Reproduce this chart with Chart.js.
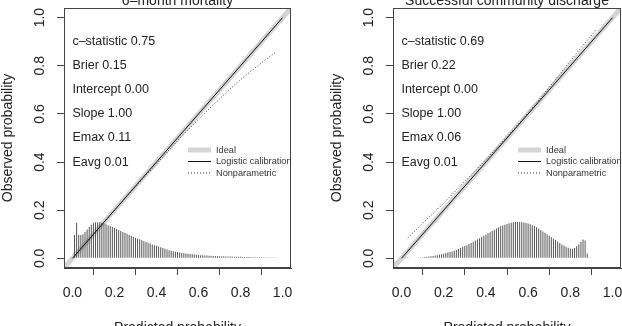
<!DOCTYPE html>
<html>
<head>
<meta charset="utf-8">
<script src="https://cdn.jsdelivr.net/npm/chart.js@4.4.0/dist/chart.umd.min.js"></script>
<style>
  html, body { margin: 0; padding: 0; background: #fff; overflow: hidden; }
  #wrap { width: 622px; height: 326px; position: relative; }
  canvas { position: absolute; top: 0; }
</style>
</head>
<body>
<div id="wrap">
  <canvas id="chartMort" width="311" height="326" style="left:0"></canvas>
  <canvas id="chartDisch" width="311" height="326" style="left:311px"></canvas>
</div>
<script>
// shared axis setup
const tickValues = [0.0, 0.2, 0.4, 0.6, 0.8, 1.0];
const axisLimits = [-0.04, 1.04];
const legendLabels = ["Ideal", "Logistic calibration", "Nonparametric"];
const xTitle = "Predicted probability";
const yTitle = "Observed probability";

// left panel: 6-month mortality
const mortTitle = "6\u2013month mortality";
const mortStats = ["c\u2013statistic 0.75", "Brier 0.15", "Intercept 0.00", "Slope 1.00", "Emax 0.11", "Eavg 0.01"];
const mortLogisticX = [0, 1];
const mortLogisticY = [0, 1];
const mortNpX = [0.01, 0.05, 0.1, 0.2, 0.3, 0.4, 0.5, 0.6, 0.7, 0.8, 0.9, 0.97];
const mortNpY = [0.01, 0.05, 0.1, 0.2, 0.298, 0.392, 0.488, 0.578, 0.662, 0.742, 0.812, 0.858];
const mortBins = [
  0.01, 0.02, 0.03, 0.04, 0.05, 0.06, 0.07, 0.08, 0.09, 0.10,
  0.11, 0.12, 0.13, 0.14, 0.15, 0.16, 0.17, 0.18, 0.19, 0.20,
  0.21, 0.22, 0.23, 0.24, 0.25, 0.26, 0.27, 0.28, 0.29, 0.30,
  0.31, 0.32, 0.33, 0.34, 0.35, 0.36, 0.37, 0.38, 0.39, 0.40,
  0.41, 0.42, 0.43, 0.44, 0.45, 0.46, 0.47, 0.48, 0.49, 0.50,
  0.51, 0.52, 0.53, 0.54, 0.55, 0.56, 0.57, 0.58, 0.59, 0.60,
  0.61, 0.62, 0.63, 0.64, 0.65, 0.66, 0.67, 0.68, 0.69, 0.70,
  0.71, 0.72, 0.73, 0.74, 0.75, 0.76, 0.77, 0.78, 0.79, 0.80,
  0.81, 0.82, 0.83, 0.84, 0.85, 0.86, 0.87, 0.88, 0.89, 0.90,
  0.91, 0.92, 0.93, 0.94, 0.95, 0.96, 0.97
];
const mortHeights = [
  0.097, 0.148, 0.098, 0.097, 0.100, 0.110, 0.120, 0.130, 0.140, 0.148,
  0.150, 0.150, 0.150, 0.148, 0.145, 0.142, 0.138, 0.134, 0.130, 0.126,
  0.122, 0.118, 0.114, 0.110, 0.106, 0.102, 0.098, 0.094, 0.090, 0.086,
  0.082, 0.079, 0.075, 0.072, 0.068, 0.065, 0.062, 0.058, 0.055, 0.052,
  0.049, 0.046, 0.043, 0.040, 0.037, 0.034, 0.032, 0.030, 0.028, 0.026,
  0.024, 0.022, 0.021, 0.020, 0.019, 0.018, 0.017, 0.016, 0.015, 0.014,
  0.013, 0.013, 0.012, 0.012, 0.011, 0.011, 0.010, 0.010, 0.010, 0.009,
  0.009, 0.009, 0.008, 0.008, 0.008, 0.008, 0.007, 0.007, 0.007, 0.007,
  0.006, 0.006, 0.006, 0.006, 0.006, 0.005, 0.005, 0.005, 0.005, 0.005,
  0.005, 0.004, 0.004, 0.004, 0.004, 0.004, 0.004
];

// right panel: successful community discharge
const dischTitle = "Successful community discharge";
const dischStats = ["c\u2013statistic 0.69", "Brier 0.22", "Intercept 0.00", "Slope 1.00", "Emax 0.06", "Eavg 0.01"];
const dischLogisticX = [0, 1];
const dischLogisticY = [0, 1];
const dischNpX = [0.03, 0.1, 0.2, 0.3, 0.4, 0.5, 0.6, 0.7, 0.8, 0.92];
const dischNpY = [0.085, 0.145, 0.23, 0.32, 0.41, 0.505, 0.605, 0.71, 0.82, 0.948];
const dischBins = [
  0.01, 0.02, 0.03, 0.04, 0.05, 0.06, 0.07, 0.08, 0.09, 0.10,
  0.11, 0.12, 0.13, 0.14, 0.15, 0.16, 0.17, 0.18, 0.19, 0.20,
  0.21, 0.22, 0.23, 0.24, 0.25, 0.26, 0.27, 0.28, 0.29, 0.30,
  0.31, 0.32, 0.33, 0.34, 0.35, 0.36, 0.37, 0.38, 0.39, 0.40,
  0.41, 0.42, 0.43, 0.44, 0.45, 0.46, 0.47, 0.48, 0.49, 0.50,
  0.51, 0.52, 0.53, 0.54, 0.55, 0.56, 0.57, 0.58, 0.59, 0.60,
  0.61, 0.62, 0.63, 0.64, 0.65, 0.66, 0.67, 0.68, 0.69, 0.70,
  0.71, 0.72, 0.73, 0.74, 0.75, 0.76, 0.77, 0.78, 0.79, 0.80,
  0.81, 0.82, 0.83, 0.84, 0.85, 0.86, 0.87, 0.88, 0.89, 0.90
];
const dischHeights = [
  0.002, 0.002, 0.002, 0.002, 0.003, 0.003, 0.003, 0.004, 0.004, 0.005,
  0.006, 0.007, 0.008, 0.009, 0.010, 0.012, 0.013, 0.015, 0.017, 0.019,
  0.021, 0.024, 0.026, 0.029, 0.032, 0.036, 0.039, 0.043, 0.047, 0.051,
  0.055, 0.060, 0.064, 0.069, 0.074, 0.079, 0.084, 0.089, 0.094, 0.099,
  0.104, 0.109, 0.114, 0.119, 0.124, 0.128, 0.133, 0.137, 0.140, 0.143,
  0.146, 0.148, 0.150, 0.151, 0.151, 0.151, 0.150, 0.149, 0.147, 0.145,
  0.142, 0.138, 0.134, 0.129, 0.124, 0.118, 0.112, 0.106, 0.100, 0.094,
  0.088, 0.082, 0.076, 0.070, 0.064, 0.058, 0.053, 0.048, 0.044, 0.041,
  0.040, 0.043, 0.050, 0.058, 0.068, 0.078, 0.074, 0.020, 0.004, 0.003
];

const FONT = "'Liberation Sans', Arial, Helvetica, sans-serif";
Chart.defaults.font.family = FONT;

function pairs(xs, ys) {
  return xs.map((v, i) => ({ x: v, y: ys[i] }));
}

// text, frame, legend and rotated y labels the way base R draws them
const rDecor = {
  id: "rDecor",
  afterDatasetsDraw(chart, args, opts) {
    const { ctx, chartArea: a, scales } = chart;
    const xs = scales.x, ys = scales.y;
    ctx.save();

    // box
    ctx.strokeStyle = "#444";
    ctx.lineWidth = 1;
    ctx.strokeRect(a.left + 0.5, a.top + 0.5, a.right - a.left - 1, a.bottom - a.top - 1);

    ctx.fillStyle = "#222";

    // stats text
    ctx.font = "12.5px " + FONT;
    ctx.textAlign = "left";
    ctx.textBaseline = "middle";
    opts.stats.forEach((s, i) => {
      ctx.fillText(s, xs.getPixelForValue(0), ys.getPixelForValue(0.9 - i * 0.1));
    });

    // legend
    const ds = chart.data.datasets;
    ctx.font = "9.2px " + FONT;
    legendLabels.forEach((lab, i) => {
      const d = ds.find(e => e.label === lab);
      const ly = a.top + 142 + i * 11.5;
      ctx.save();
      ctx.strokeStyle = d.borderColor;
      ctx.lineWidth = d.borderWidth;
      ctx.setLineDash(d.borderDash || []);
      ctx.beginPath();
      ctx.moveTo(a.right - 103, ly);
      ctx.lineTo(a.right - 80, ly);
      ctx.stroke();
      ctx.restore();
      ctx.fillStyle = "#333";
      ctx.fillText(lab, a.right - 75, ly);
    });

    // y tick labels, rotated like R's las = 0
    ctx.fillStyle = "#222";
    ctx.font = "14px " + FONT;
    ctx.textAlign = "center";
    ys.ticks.forEach(t => {
      ctx.save();
      ctx.translate(a.left - 24, ys.getPixelForValue(t.value));
      ctx.rotate(-Math.PI / 2);
      ctx.fillText(t.value.toFixed(1), 0, 0);
      ctx.restore();
    });

    // titles
    const cx = (a.left + a.right) / 2;
    ctx.textBaseline = "alphabetic";
    ctx.fillText(opts.title, cx, 5);
    ctx.fillText(xTitle, cx, 332);
    ctx.save();
    ctx.translate(a.left - 56, (a.top + a.bottom) / 2);
    ctx.rotate(-Math.PI / 2);
    ctx.textBaseline = "middle";
    ctx.fillText(yTitle, 0, 0);
    ctx.restore();

    ctx.restore();
  }
};

function makeChart(id, p) {
  const ctx = document.getElementById(id);
  return new Chart(ctx, {
    type: "line",
    data: {
      datasets: [
        {
          label: legendLabels[1],
          data: pairs(p.logX, p.logY),
          borderColor: "#111",
          borderWidth: 1,
          pointRadius: 0,
          order: 0,
        },
        {
          label: legendLabels[2],
          data: pairs(p.npX, p.npY),
          borderColor: "#333",
          borderWidth: 1,
          borderDash: [1, 2],
          pointRadius: 0,
          cubicInterpolationMode: "monotone",
          order: 1,
        },
        {
          type: "bar",
          label: "hist",
          data: pairs(p.bins, p.heights),
          backgroundColor: "#555",
          borderWidth: 0,
          barThickness: 1,
          inflateAmount: 0,
          grouped: false,
          order: 2,
        },
        {
          label: legendLabels[0],
          data: pairs(axisLimits, axisLimits),
          borderColor: "#d4d4d4",
          borderWidth: 5,
          pointRadius: 0,
          clip: 0,
          order: 3,
        },
      ],
    },
    options: {
      responsive: false,
      animation: false,
      events: [],
      layout: { padding: { top: 8, right: p.padRight, left: 0, bottom: 0 } },
      plugins: {
        legend: { display: false },
        tooltip: { enabled: false },
        title: { display: false },
        rDecor: { title: p.title, stats: p.stats },
      },
      scales: {
        x: {
          type: "linear",
          min: axisLimits[0],
          max: axisLimits[1],
          offset: false,
          afterBuildTicks: s => { s.ticks = tickValues.map(v => ({ value: v })); },
          afterFit: s => { s.height = 58; s.paddingLeft = 0; s.paddingRight = 0; },
          grid: { drawOnChartArea: false, tickLength: 7, color: "#444", lineWidth: 1 },
          border: { display: true, color: "#444" },
          ticks: {
            font: { size: 14, family: FONT },
            color: "#222",
            padding: 10,
            maxRotation: 0,
            autoSkip: false,
            callback: v => v.toFixed(1),
          },
        },
        y: {
          type: "linear",
          min: axisLimits[0],
          max: axisLimits[1],
          afterBuildTicks: s => { s.ticks = tickValues.map(v => ({ value: v })); },
          afterFit: s => { s.width = p.yWidth; s.paddingTop = 0; s.paddingBottom = 0; },
          grid: { drawOnChartArea: false, tickLength: 7, color: "#444", lineWidth: 1 },
          border: { display: true, color: "#444" },
          ticks: { display: false },
        },
      },
    },
    plugins: [rDecor],
  });
}

makeChart("chartMort", {
  title: mortTitle, stats: mortStats,
  logX: mortLogisticX, logY: mortLogisticY,
  npX: mortNpX, npY: mortNpY,
  bins: mortBins, heights: mortHeights,
  yWidth: 64, padRight: 20,
});

makeChart("chartDisch", {
  title: dischTitle, stats: dischStats,
  logX: dischLogisticX, logY: dischLogisticY,
  npX: dischNpX, npY: dischNpY,
  bins: dischBins, heights: dischHeights,
  yWidth: 82, padRight: 1,
});
</script>
</body>
</html>
